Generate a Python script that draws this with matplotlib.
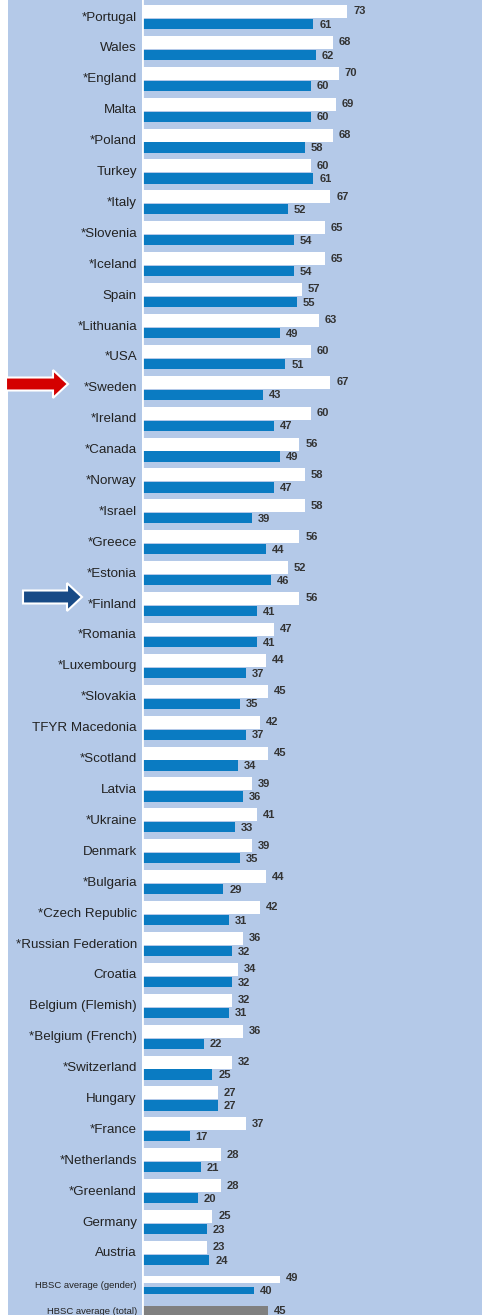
import matplotlib
matplotlib.use("Agg")
import matplotlib.pyplot as plt
from matplotlib.patches import Polygon

countries = ["*Portugal", "Wales", "*England", "Malta", "*Poland", "Turkey", "*Italy",
             "*Slovenia", "*Iceland", "Spain", "*Lithuania", "*USA", "*Sweden", "*Ireland",
             "*Canada", "*Norway", "*Israel", "*Greece", "*Estonia", "*Finland", "*Romania",
             "*Luxembourg", "*Slovakia", "TFYR Macedonia", "*Scotland", "Latvia", "*Ukraine",
             "Denmark", "*Bulgaria", "*Czech Republic", "*Russian Federation", "Croatia",
             "Belgium (Flemish)", "*Belgium (French)", "*Switzerland", "Hungary", "*France",
             "*Netherlands", "*Greenland", "Germany", "Austria"]
white_vals = [73, 68, 70, 69, 68, 60, 67, 65, 65, 57, 63, 60, 67, 60, 56, 58, 58, 56, 52, 56,
              47, 44, 45, 42, 45, 39, 41, 39, 44, 42, 36, 34, 32, 36, 32, 27, 37, 28, 28, 25, 23]
blue_vals = [61, 62, 60, 60, 58, 61, 52, 54, 54, 55, 49, 51, 43, 47, 49, 47, 39, 44, 46, 41,
             41, 37, 35, 37, 34, 36, 33, 35, 29, 31, 32, 32, 31, 22, 25, 27, 17, 21, 20, 23, 24]
avg_labels = ["HBSC average (gender)", "HBSC average (total)"]
avg_gender = [49, 40]
avg_total = 45

BG = "#b4c9e8"
BLUE = "#0a7bc2"
GRAY = "#808080"
TXT = "#333333"
FONT = ["Liberation Sans", "DejaVu Sans"]

W, H = 482, 1315
fig = plt.figure(figsize=(W / 100, H / 100), dpi=100)
fig.patch.set_facecolor("white")
bgax = fig.add_axes([8 / W, 0, 1 - 8 / W, 1])
bgax.set_facecolor(BG)
bgax.set_xticks([]); bgax.set_yticks([])
for s in bgax.spines.values():
    s.set_visible(False)

x0 = 142 / W
ax = fig.add_axes([x0, 0, 1 - x0, 1])
ax.patch.set_alpha(0)
pitch = 30.9
top_px = 17.5
ax.set_ylim((H - top_px) / pitch, -top_px / pitch)
ax.set_xlim(0, (W - 142) / 2.81)
ax.set_xticks([]); ax.set_yticks([])
for s in ax.spines.values():
    s.set_visible(False)
ax.axvline(0, color="white", lw=2, zorder=5)

n = len(countries)
ys = list(range(n))
ax.barh([y - 0.195 for y in ys], white_vals, height=0.42, color="white", zorder=3)
ax.barh([y + 0.21 for y in ys], blue_vals, height=0.33, color=BLUE, zorder=3)
vkw = dict(ha="left", va="center", fontsize=8, fontweight="bold", color=TXT, family=FONT)
for y, wv, bv, c in zip(ys, white_vals, blue_vals, countries):
    ax.text(wv + 2.1, y - 0.2, str(wv), **vkw)
    ax.text(bv + 2.1, y + 0.23, str(bv), **vkw)
    ax.text(-1.8, y, c, ha="right", va="center", fontsize=9.6, color="#222222", family=FONT)

gy = (1285 - top_px) / pitch
ty = (1311 - top_px) / pitch
ax.barh([gy - 0.18], [avg_gender[0]], height=0.25, color="white", zorder=3)
ax.barh([gy + 0.17], [avg_gender[1]], height=0.22, color=BLUE, zorder=3)
ax.barh([ty], [avg_total], height=0.3, color=GRAY, zorder=3)
ax.text(avg_gender[0] + 2.1, gy - 0.22, str(avg_gender[0]), **vkw)
ax.text(avg_gender[1] + 2.1, gy + 0.2, str(avg_gender[1]), **vkw)
ax.text(avg_total + 2.1, ty, str(avg_total), **vkw)
ax.text(-1.8, gy, avg_labels[0], ha="right", va="center", fontsize=6.8, color="#222222",
        family=FONT)
ax.text(-1.8, ty, avg_labels[1], ha="right", va="center", fontsize=6.8, color="#222222",
        family=FONT)


def arrow(xl, xr, yc, color):
    shaft_h = 6.5
    head_h = 14
    head_x = xr - 15
    pts = [(xl, yc - shaft_h), (head_x, yc - shaft_h), (head_x, yc - head_h), (xr, yc),
           (head_x, yc + head_h), (head_x, yc + shaft_h), (xl, yc + shaft_h)]
    pts = [(px / W, 1 - py / H) for px, py in pts]
    fig.patches.append(Polygon(pts, closed=True, transform=fig.transFigure,
                               facecolor=color, edgecolor="white", lw=1.5, zorder=10))


arrow(6, 68, 384, "#d40000")
arrow(23, 82, 597, "#174a86")

fig.savefig("out.png", dpi=100)
